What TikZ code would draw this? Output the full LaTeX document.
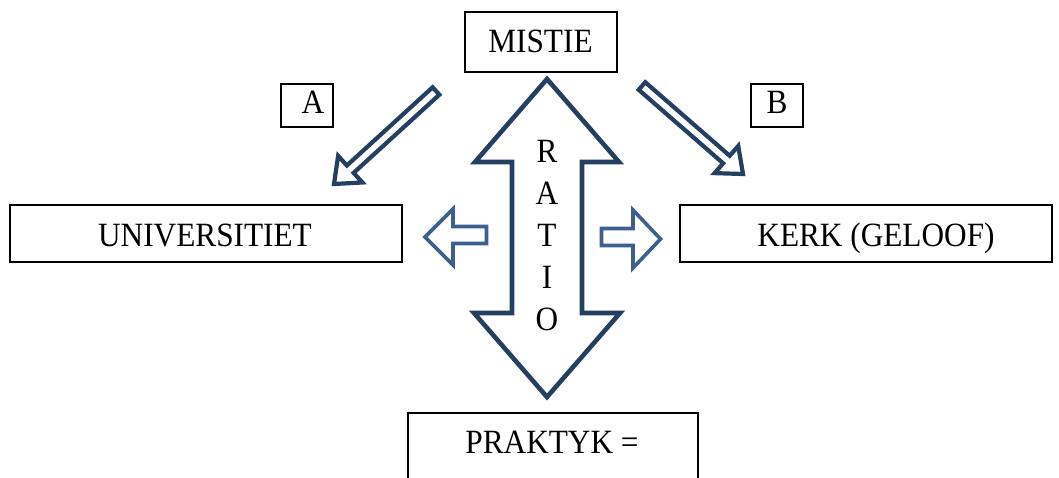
\documentclass[tikz,border=0pt]{standalone}
\usepackage{fontspec}
\setmainfont[FakeStretch=0.92]{Liberation Serif}
\usetikzlibrary{calc}
\definecolor{navy}{HTML}{243F62}
\definecolor{midblue}{HTML}{3C5F90}
\tikzset{
  box/.style={draw=black, line width=2pt, inner sep=0pt},
  lbl/.style={inner sep=0pt, anchor=base, font=\fontsize{34}{36}\selectfont},
  bigarrow/.style={draw=navy, line width=4.6pt, line join=miter, fill=white},
  sidearrow/.style={draw=midblue, line width=3.6pt, line join=miter, fill=white},
  diagarrow/.style={draw=navy, line width=4.2pt, line join=miter, fill=white},
}
\newcommand{\blockarrow}[6]{% style, tail, tip, half-shaft, half-head, head length
  \draw[#1] ($(#2)!#4!90:(#3)$) -- ($($(#3)!#6!(#2)$)!#4!-90:(#2)$)
    -- ($($(#3)!#6!(#2)$)!#5!-90:(#2)$) -- (#3)
    -- ($($(#3)!#6!(#2)$)!#5!90:(#2)$) -- ($($(#3)!#6!(#2)$)!#4!90:(#2)$)
    -- ($(#2)!#4!-90:(#3)$) -- cycle;}
\begin{document}
\begin{tikzpicture}[x=1pt,y=-1pt]
\useasboundingbox (0,0) rectangle (1059,477);
\clip (0,0) rectangle (1059,477);
% boxes
\node[box, minimum width=152pt, minimum height=60pt] (mistie) at (540.5,42) {};
\node[lbl] (mistiet) at (540.5,52) {MISTIE};
\node[box, minimum width=52pt, minimum height=43pt] (a) at (307,105) {};
\node[lbl] (at) at (313,113) {A};
\node[box, minimum width=52pt, minimum height=43pt] (b) at (776.5,105) {};
\node[lbl] (bt) at (777,113) {B};
\node[box, minimum width=392pt, minimum height=57pt] (uni) at (206,233.5) {};
\node[lbl] (unit) at (205,246) {UNIVERSITIET};
\node[box, minimum width=372pt, minimum height=57pt] (kerk) at (866,233.5) {};
\node[lbl] (kerkt) at (876,246) {KERK (GELOOF)};
\node[box, minimum width=290pt, minimum height=100pt] (prak) at (552.5,463) {};
\node[lbl] (prakt) at (552,453) {PRAKTYK =};
% double arrow
\draw[bigarrow] (547,79) -- (619,162) -- (582,162) -- (582,313) -- (620,313)
  -- (547,397) -- (474,313) -- (512,313) -- (512,162) -- (475,162) -- cycle;
\foreach \ch/\y [count=\i] in {R/162,A/204,T/246,I/288,O/330}
  \node[lbl] (ratio\i) at (547,\y) {\ch};
% side arrows
\draw[sidearrow] (486.5,226.5) -- (453,226.5) -- (453,209) -- (425,237)
  -- (453,265) -- (453,243.5) -- (486.5,243.5) -- cycle;
\draw[sidearrow] (601.5,228.5) -- (633,228.5) -- (633,210) -- (660.5,239)
  -- (633,268) -- (633,245.5) -- (601.5,245.5) -- cycle;
% diagonal arrows
\coordinate (atail) at (436,91);
\coordinate (atip) at (334,184);
\coordinate (btail) at (642,86);
\coordinate (btip) at (743,174);
\blockarrow{diagarrow}{atail}{atip}{5pt}{18pt}{22pt}
\blockarrow{diagarrow}{btail}{btip}{5pt}{18pt}{22pt}
\end{tikzpicture}
\end{document}
